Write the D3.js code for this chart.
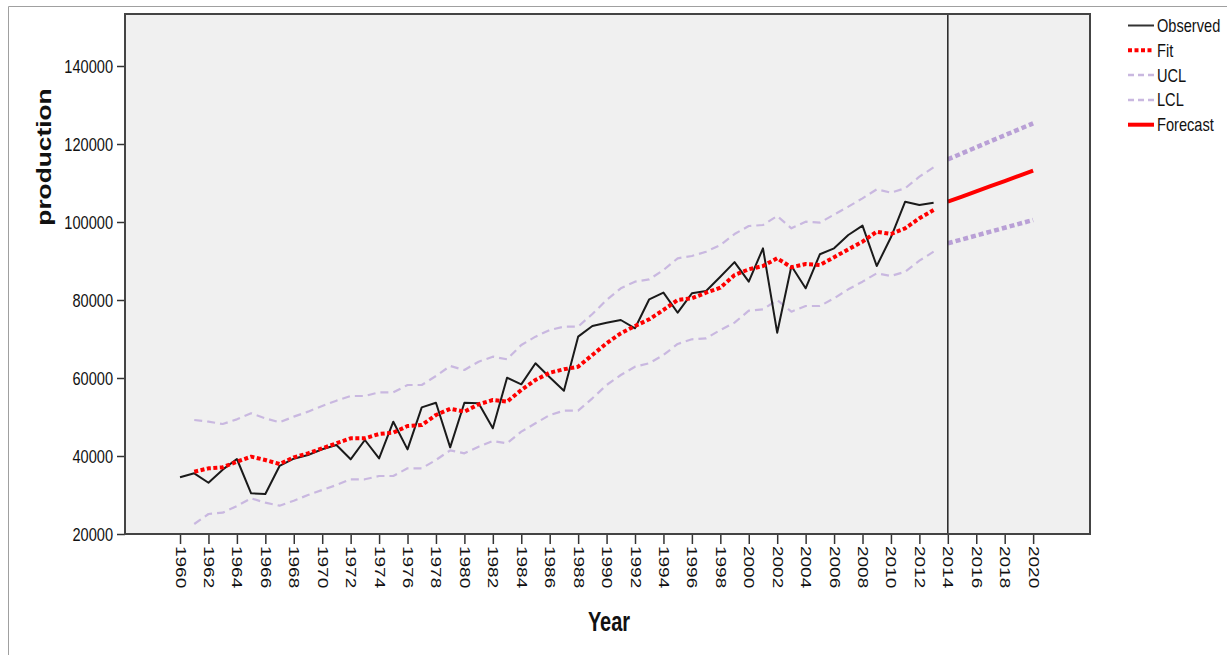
<!DOCTYPE html>
<html>
<head>
<meta charset="utf-8">
<script src="https://cdn.jsdelivr.net/npm/d3@7"></script>
<style>
  body { margin: 0; background: #fff; }
  svg { display: block; font-family: "Liberation Sans", Arial, sans-serif; }
</style>
</head>
<body>
<div id="chart"></div>
<script>
// Historical years (observed / fit / limits)
const years = d3.range(1960, 2014);
const observed = [34540, 35560, 33150, 36500, 39230, 30440, 30260, 37440, 39300, 40260,
  41720, 42820, 39150, 44100, 39400, 48800, 41700, 52480, 53670, 42220,
  53670, 53500, 47100, 60080, 58380, 63770, 60200, 56740, 70600, 73330,
  74180, 74870, 72740, 80180, 81900, 76740, 81720, 82300, 85980, 89700,
  84700, 93250, 71620, 88720, 83000, 91720, 93250, 96670, 99060, 88720,
  96080, 105200, 104360, 104950];
// fit and limits start in 1961
const fit = [null, 35970, 36840, 37100, 38540, 39830, 38970, 37950, 39660, 40690,
  41970, 43260, 44540, 44540, 45640, 45980, 47690, 47950, 50510, 52100,
  51370, 53250, 54360, 53930, 56920, 59490, 61360, 62230, 62900, 65900,
  68900, 71460, 73330, 75050, 77440, 80000, 80430, 81880, 83150, 86400,
  87870, 88720, 90690, 88380, 89230, 88970, 90950, 93000, 94950, 97510,
  96920, 98380, 100950, 103080];
const ucl = [null, 49230, 48800, 48200, 49400, 50940, 49660, 48630, 50090, 51370,
  52820, 54190, 55380, 55380, 56320, 56320, 58200, 58200, 60510, 63080,
  62050, 64180, 65460, 64800, 68460, 70600, 72310, 73170, 73170, 76410,
  80000, 83000, 84700, 85300, 87690, 90690, 91280, 92390, 94100, 96920,
  98970, 99230, 101540, 98380, 100080, 99830, 101900, 103930, 106070, 108380,
  107510, 108640, 111620, 114020];
const lcl = [null, 22560, 25130, 25460, 27180, 29150, 28030, 27260, 28540, 30000,
  31280, 32560, 34030, 34030, 34870, 34870, 36840, 36840, 38970, 41450,
  40690, 42390, 43850, 43250, 46240, 48380, 50510, 51620, 51620, 54790,
  58200, 60770, 62900, 63770, 65900, 68720, 69920, 70170, 72310, 74200,
  77260, 77610, 80000, 77010, 78460, 78460, 80430, 82740, 84700, 86840,
  86150, 87260, 90080, 92390];

// Forecast period
const fcYears = [2014, 2015, 2016, 2017, 2018, 2019, 2020];
const forecast = [105200, 106530, 107850, 109180, 110500, 111830, 113150];
const fcUcl = [116070, 117600, 119150, 120700, 122230, 123770, 125300];
const fcLcl = [94540, 95540, 96530, 97530, 98520, 99520, 100510];

const tickYears = d3.range(1960, 2021, 2);
const yTicks = [20000, 40000, 60000, 80000, 100000, 120000, 140000];

const legendItems = [
  { label: 'Observed', color: '#333', width: 2, dash: null },
  { label: 'Fit', color: '#ff0000', width: 4, dash: '4,2.5' },
  { label: 'UCL', color: '#c9b8e0', width: 2.5, dash: '6,4' },
  { label: 'LCL', color: '#c9b8e0', width: 2.5, dash: '6,4' },
  { label: 'Forecast', color: '#ff0000', width: 4, dash: null }
];

const width = 1227, height = 655;
const plot = { left: 125, right: 1090, top: 14, bottom: 534 };
const stretch = 1.3; // text in the source looks vertically stretched

const svg = d3.select('#chart').append('svg')
  .attr('width', width)
  .attr('height', height);

// outer frame
svg.append('path')
  .attr('d', `M8.5,${height} V6.5 H${width}`)
  .attr('fill', 'none')
  .attr('stroke', '#a0a0a0')
  .attr('stroke-width', 1);

const x = d3.scaleLinear().domain([1956.13, 2024]).range([plot.left, plot.right]);
const y = d3.scaleLinear().domain([20000, 153333]).range([plot.bottom, plot.top]);

// plot background
svg.append('rect')
  .attr('x', plot.left).attr('y', plot.top)
  .attr('width', plot.right - plot.left)
  .attr('height', plot.bottom - plot.top)
  .attr('fill', '#f0f0f0');

// y axis
const yAxis = svg.append('g')
  .attr('transform', `translate(${plot.left},0)`)
  .call(d3.axisLeft(y).tickValues(yTicks).tickSize(8).tickPadding(4).tickFormat(d3.format('d')));
yAxis.select('.domain').remove();
yAxis.selectAll('line').attr('stroke', '#333').attr('stroke-width', 1.5);
yAxis.selectAll('text')
  .attr('x', null).attr('dy', null)
  .attr('font-size', 14.6)
  .attr('fill', '#111')
  .attr('transform', `translate(-12,0) scale(1,${stretch}) translate(0,5)`);

// x axis
const xAxis = svg.append('g')
  .attr('transform', `translate(0,${plot.bottom})`)
  .call(d3.axisBottom(x).tickValues(tickYears).tickSize(10).tickFormat(d3.format('d')));
xAxis.select('.domain').remove();
xAxis.selectAll('line').attr('stroke', '#333').attr('stroke-width', 1.5);
xAxis.selectAll('text')
  .attr('y', null).attr('dy', null)
  .attr('font-size', 14.6)
  .attr('fill', '#111')
  .attr('text-anchor', 'start')
  .attr('transform', `translate(0,12) scale(1,${stretch}) rotate(90) translate(0,5)`);

// lines
const line = d3.line()
  .defined(d => d[1] != null)
  .x(d => x(d[0]))
  .y(d => y(d[1]));

function drawSeries(xs, vals, color, w, dash) {
  svg.append('path')
    .datum(xs.map((yr, i) => [yr, vals[i]]))
    .attr('d', line)
    .attr('fill', 'none')
    .attr('stroke', color)
    .attr('stroke-width', w)
    .attr('stroke-linejoin', 'round')
    .attr('stroke-dasharray', dash);
}

drawSeries(years, ucl, '#c9b8e0', 2.2, '8,5');
drawSeries(years, lcl, '#c9b8e0', 2.2, '8,5');
drawSeries(fcYears, fcUcl, '#b9a0d6', 4.5, '5,3');
drawSeries(fcYears, fcLcl, '#b9a0d6', 4.5, '5,3');
drawSeries(years, observed, '#1a1a1a', 2, null);
drawSeries(years, fit, '#ff0000', 4, '4,2.5');
drawSeries(fcYears, forecast, '#ff0000', 4, null);

// forecast origin reference line
svg.append('line')
  .attr('x1', x(2014)).attr('x2', x(2014))
  .attr('y1', plot.top).attr('y2', plot.bottom)
  .attr('stroke', '#222')
  .attr('stroke-width', 1.5);

// plot border
svg.append('rect')
  .attr('x', plot.left).attr('y', plot.top)
  .attr('width', plot.right - plot.left)
  .attr('height', plot.bottom - plot.top)
  .attr('fill', 'none')
  .attr('stroke', '#444')
  .attr('stroke-width', 2);

// axis titles
svg.append('text')
  .attr('transform', `translate(51,157) scale(1,1.35) rotate(-90)`)
  .attr('text-anchor', 'middle')
  .attr('font-size', 19.5)
  .attr('font-weight', 'bold')
  .attr('fill', '#111')
  .text('production');

svg.append('text')
  .attr('transform', `translate(609,631) scale(1,1.35)`)
  .attr('text-anchor', 'middle')
  .attr('font-size', 20)
  .attr('font-weight', 'bold')
  .attr('fill', '#111')
  .text('Year');

// legend
const legend = svg.append('g').attr('transform', 'translate(1128,25.5)');
legendItems.forEach((d, i) => {
  const g = legend.append('g').attr('transform', `translate(0,${i * 24.8})`);
  g.append('line')
    .attr('x1', 0).attr('x2', 26)
    .attr('stroke', d.color)
    .attr('stroke-width', d.width)
    .attr('stroke-dasharray', d.dash);
  g.append('text')
    .attr('transform', `translate(29,0) scale(1,${stretch}) translate(0,5)`)
    .attr('font-size', 14.6)
    .attr('fill', '#111')
    .text(d.label);
});
</script>
</body>
</html>
